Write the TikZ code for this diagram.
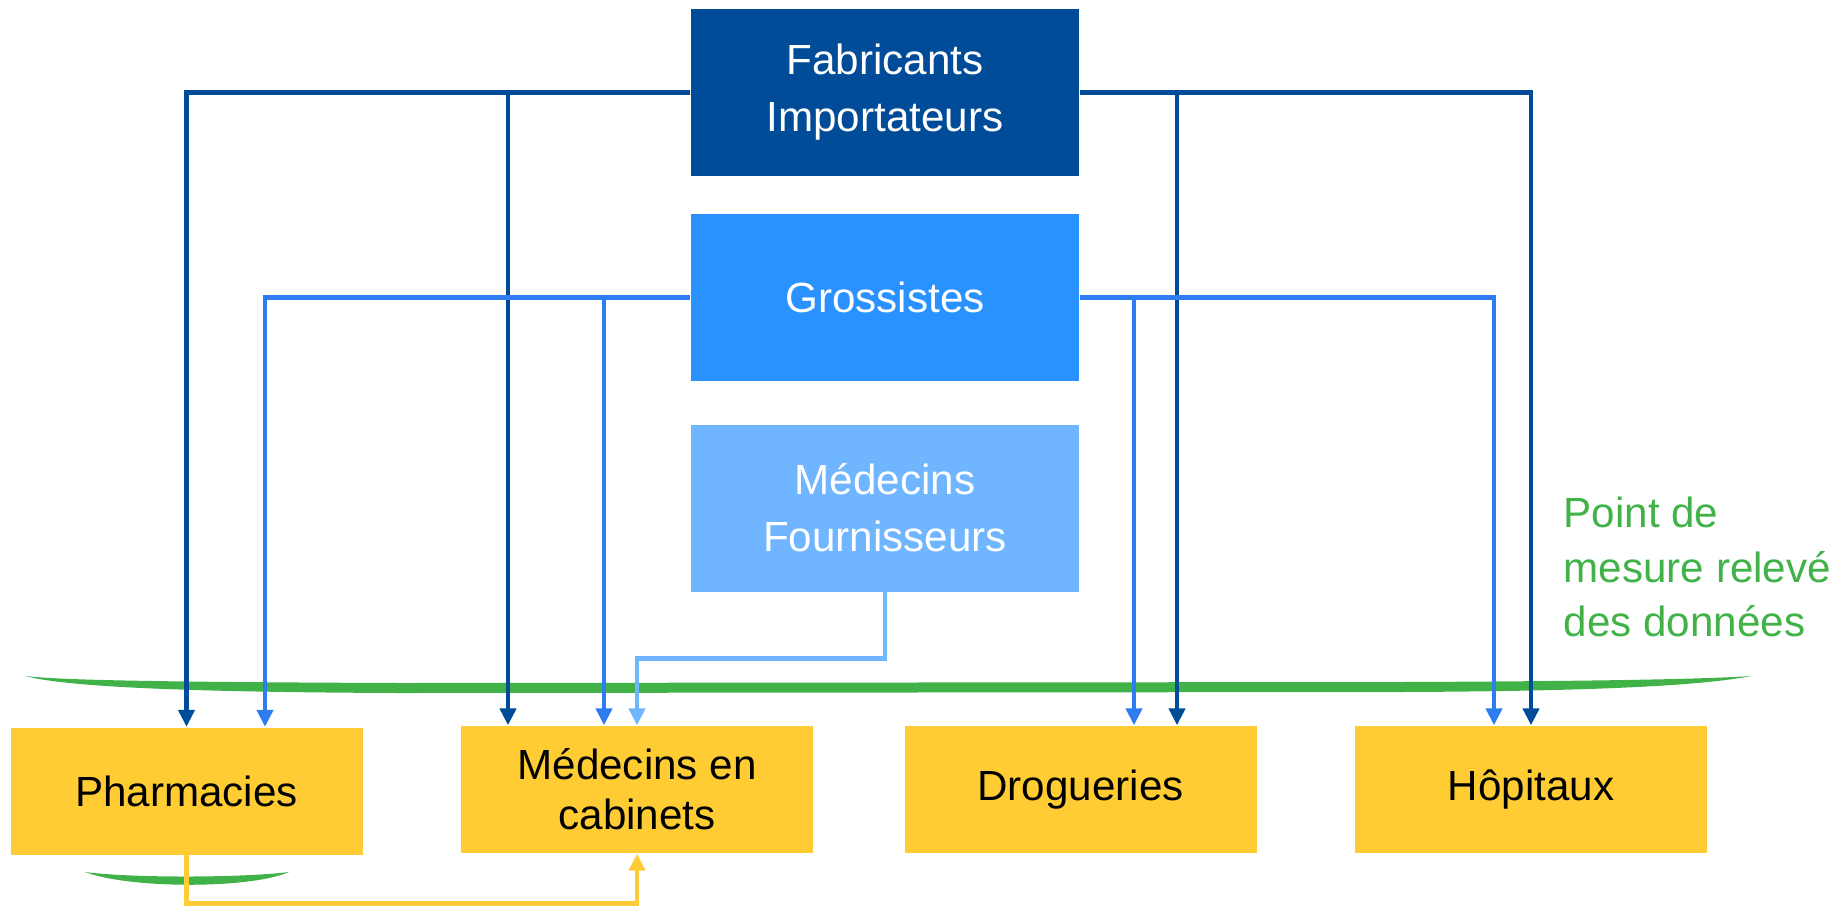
\documentclass[tikz,border=0pt]{standalone}
\usepackage{fontspec}
\setmainfont{Liberation Sans}
\usepackage{xcolor}
\usepackage{tikz}
\usetikzlibrary{arrows.meta,calc}

\definecolor{fabblue}{RGB}{0,76,152}
\definecolor{grossbox}{RGB}{41,146,255}
\definecolor{grossline}{RGB}{46,125,240}
\definecolor{medfblue}{RGB}{111,181,255}
\definecolor{cabyellow}{RGB}{255,205,51}
\definecolor{mesuregreen}{RGB}{64,178,72}

\begin{document}
\begin{tikzpicture}[
    topbox/.style={minimum width=3.88cm, minimum height=1.67cm, inner sep=0pt, text=white, align=center, font=\fontsize{12}{16.2}\selectfont},
    endbox/.style={fill=cabyellow, minimum width=3.52cm, minimum height=1.27cm, inner sep=0pt, align=center, font=\fontsize{12}{14.2}\selectfont},
    flow/.style={line width=1.3pt, -{Triangle[width=0.16cm,length=0.17cm]}},
    brush/.style={fill=mesuregreen}
]
    \useasboundingbox (0,0) rectangle (18.37,-9.06);

    % Sources
    \node[topbox, fill=fabblue] (fab) at (8.85,-0.925) {Fabricants\\Importateurs};
    \node[topbox, fill=grossbox] (gross) at (8.85,-2.975) {Grossistes};
    \node[topbox, fill=medfblue] (medf) at (8.85,-5.08) {Médecins\\Fournisseurs};

    % Points de vente
    \node[endbox] (pharm) at (1.865,-7.91) {Pharmacies};
    \node[endbox] (medcab) at (6.37,-7.895) {Médecins en\\cabinets};
    \node[endbox] (drog) at (10.805,-7.895) {Drogueries};
    \node[endbox] (hop) at (15.31,-7.895) {Hôpitaux};

    % Point de mesure
    \fill[brush] (0.25,-6.76) .. controls (0.6,-6.80) and (1.5,-6.82) .. (4.0,-6.83) -- (14.0,-6.82)
        .. controls (16.5,-6.81) and (17.2,-6.78) .. (17.51,-6.76)
        .. controls (17.2,-6.82) and (16.5,-6.91) .. (14.0,-6.92) -- (4.0,-6.93)
        .. controls (1.5,-6.92) and (0.6,-6.85) .. cycle;
    \fill[brush] (0.85,-8.72) .. controls (1.3,-8.78) and (2.4,-8.78) .. (2.89,-8.72)
        .. controls (2.5,-8.89) and (1.3,-8.89) .. cycle;
    \node[text=mesuregreen, align=left, anchor=north west, inner sep=0pt, font=\fontsize{12}{15.6}\selectfont] (mesure) at (15.63,-4.96) {Point de\\mesure relevé\\des données};

    % Fabricants
    \draw[flow, fabblue] (fab.west) -| (pharm.north);
    \draw[flow, fabblue] (fab.west) -| ([xshift=-1.29cm]medcab.north);
    \draw[flow, fabblue] (fab.east) -| ([xshift=0.965cm]drog.north);
    \draw[flow, fabblue] (fab.east) -| (hop.north);

    % Grossistes
    \draw[flow, grossline] (gross.west) -| ([xshift=0.785cm]pharm.north);
    \draw[flow, grossline] (gross.west) -| ([xshift=-0.33cm]medcab.north);
    \draw[flow, grossline] (gross.east) -| ([xshift=0.535cm]drog.north);
    \draw[flow, grossline] (gross.east) -| ([xshift=-0.37cm]hop.north);

    % Medecins fournisseurs
    \draw[flow, medfblue] (medf.south) -- ++(0,-0.66) -| (medcab.north);

    % Pharmacies -> cabinets
    \draw[flow, cabyellow] (pharm.south) -- ++(0,-0.48) -| (medcab.south);
\end{tikzpicture}
\end{document}
